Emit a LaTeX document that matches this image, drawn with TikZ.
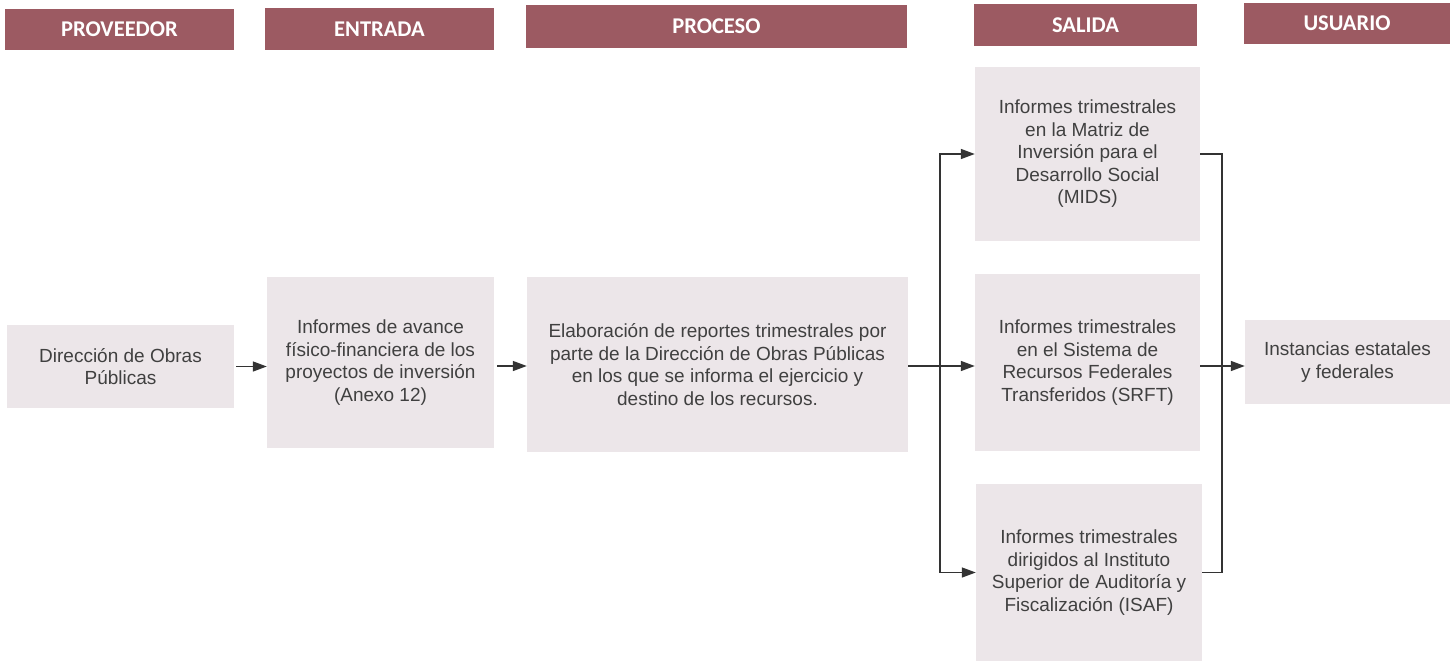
\documentclass[tikz,border=0pt]{standalone}
\usepackage{fontspec}
\setmainfont{Liberation Sans}
\newfontfamily\headfont{Carlito}
\usetikzlibrary{arrows.meta}
\definecolor{headred}{HTML}{9C5A62}
\definecolor{boxfill}{HTML}{ECE6E9}
\definecolor{txt}{HTML}{404040}
\definecolor{linec}{HTML}{333333}
\tikzset{
  head/.style={fill=headred, draw=none, text=white, font=\headfont\bfseries\fontsize{22.5}{26}\selectfont, inner sep=0pt},
  box/.style={fill=boxfill, draw=none, text=txt, align=center, font=\fontsize{19}{22.5}\selectfont, inner sep=0pt},
  conn/.style={draw=linec, line width=1.4pt},
  arr/.style={conn, -{Triangle[length=14pt,width=10pt]}},
}
\begin{document}
\begin{tikzpicture}[x=1pt,y=-1pt]
\useasboundingbox[fill=white] (0,0) rectangle (1456,663);
% headers
\node[head, minimum width=229pt, minimum height=41pt] (hprov) at (119.5,29.5) {PROVEEDOR};
\node[head, minimum width=229pt, minimum height=42pt] (hent) at (379.5,29) {ENTRADA};
\node[head, minimum width=381pt, minimum height=43pt] (hpro) at (716.5,26.5) {PROCESO};
\node[head, minimum width=223pt, minimum height=42pt] (hsal) at (1085.5,25) {SALIDA};
\node[head, minimum width=206pt, minimum height=41pt] (husu) at (1347,23.5) {USUARIO};
% boxes
\node[box, minimum width=227pt, minimum height=83pt] (dir) at (120.5,366.5) {Dirección de Obras\\Públicas};
\node[box, minimum width=227pt, minimum height=171pt] (ent) at (380.5,362.5) {Informes de avance\\físico-financiera de los\\proyectos de inversión\\(Anexo 12)};
\node[box, minimum width=381pt, minimum height=175pt] (pro) at (717.5,364.5) {Elaboración de reportes trimestrales por\\parte de la Dirección de Obras Públicas\\en los que se informa el ejercicio y\\destino de los recursos.};
\node[box, minimum width=225pt, minimum height=174pt] (mids) at (1087.5,154) {Informes trimestrales\\en la Matriz de\\Inversión para el\\Desarrollo Social\\(MIDS)};
\node[box, minimum width=225pt, minimum height=177pt] (srft) at (1087.5,362.5) {Informes trimestrales\\en el Sistema de\\Recursos Federales\\Transferidos (SRFT)};
\node[box, minimum width=226pt, minimum height=177pt] (isaf) at (1089,572.5) {Informes trimestrales\\dirigidos al Instituto\\Superior de Auditoría y\\Fiscalización (ISAF)};
\node[box, minimum width=205pt, minimum height=84pt] (inst) at (1347.5,362) {Instancias estatales\\y federales};
% connectors
\coordinate (fork) at (940,366);
\coordinate (join) at (1222,366);
\draw[arr] (dir.east) ++(2,0) -- (ent.west |- dir.east);
\draw[arr] ([xshift=3pt]ent.east |- fork) -- (pro.west |- fork);
\draw[arr] (pro.east |- fork) -- (srft.west |- fork);
\draw[arr] (fork) |- (mids.west);
\draw[arr] (fork) |- (isaf.west);
\draw[conn] (mids.east) -| (join);
\draw[conn] (isaf.east) -| (join);
\draw[arr] (srft.east |- join) -- (inst.west |- join);
\end{tikzpicture}
\end{document}
